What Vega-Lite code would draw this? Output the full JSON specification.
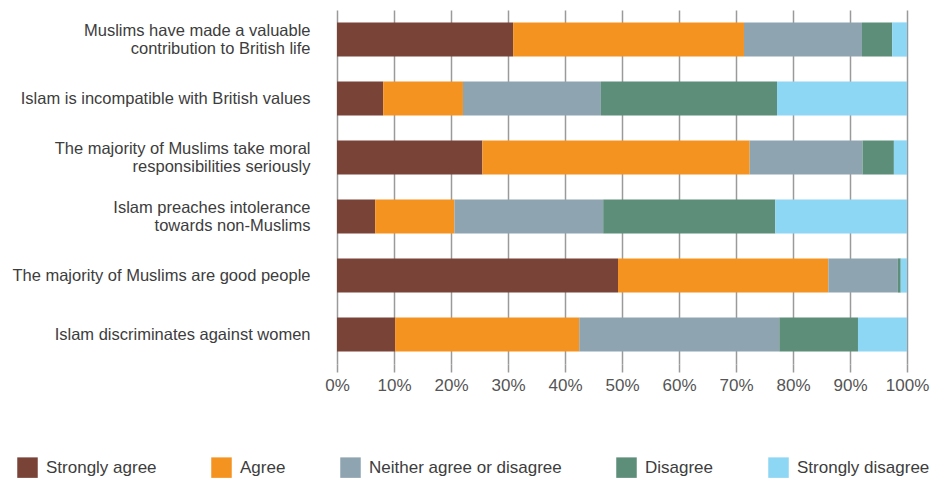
{
  "$schema": "https://vega.github.io/schema/vega-lite/v6.json",
  "width": 570,
  "height": 354,
  "autosize": {"type": "none"},
  "padding": {"left": 337, "top": 10, "right": 33, "bottom": 116},
  "background": "white",
  "config": {
    "font": "Liberation Sans",
    "view": {"stroke": null}
  },
  "data": {
    "values": [
      {"statement": "Muslims have made a valuable|contribution to British life", "response": "Strongly agree", "o": 1, "pct": 30.9},
      {"statement": "Muslims have made a valuable|contribution to British life", "response": "Agree", "o": 2, "pct": 40.5},
      {"statement": "Muslims have made a valuable|contribution to British life", "response": "Neither agree or disagree", "o": 3, "pct": 20.7},
      {"statement": "Muslims have made a valuable|contribution to British life", "response": "Disagree", "o": 4, "pct": 5.3},
      {"statement": "Muslims have made a valuable|contribution to British life", "response": "Strongly disagree", "o": 5, "pct": 2.6},
      {"statement": "Islam is incompatible with British values", "response": "Strongly agree", "o": 1, "pct": 8.1},
      {"statement": "Islam is incompatible with British values", "response": "Agree", "o": 2, "pct": 14.0},
      {"statement": "Islam is incompatible with British values", "response": "Neither agree or disagree", "o": 3, "pct": 24.2},
      {"statement": "Islam is incompatible with British values", "response": "Disagree", "o": 4, "pct": 30.9},
      {"statement": "Islam is incompatible with British values", "response": "Strongly disagree", "o": 5, "pct": 22.8},
      {"statement": "The majority of Muslims take moral|responsibilities seriously", "response": "Strongly agree", "o": 1, "pct": 25.5},
      {"statement": "The majority of Muslims take moral|responsibilities seriously", "response": "Agree", "o": 2, "pct": 46.9},
      {"statement": "The majority of Muslims take moral|responsibilities seriously", "response": "Neither agree or disagree", "o": 3, "pct": 19.8},
      {"statement": "The majority of Muslims take moral|responsibilities seriously", "response": "Disagree", "o": 4, "pct": 5.5},
      {"statement": "The majority of Muslims take moral|responsibilities seriously", "response": "Strongly disagree", "o": 5, "pct": 2.3},
      {"statement": "Islam preaches intolerance|towards non-Muslims", "response": "Strongly agree", "o": 1, "pct": 6.7},
      {"statement": "Islam preaches intolerance|towards non-Muslims", "response": "Agree", "o": 2, "pct": 13.9},
      {"statement": "Islam preaches intolerance|towards non-Muslims", "response": "Neither agree or disagree", "o": 3, "pct": 26.1},
      {"statement": "Islam preaches intolerance|towards non-Muslims", "response": "Disagree", "o": 4, "pct": 30.2},
      {"statement": "Islam preaches intolerance|towards non-Muslims", "response": "Strongly disagree", "o": 5, "pct": 23.1},
      {"statement": "The majority of Muslims are good people", "response": "Strongly agree", "o": 1, "pct": 49.3},
      {"statement": "The majority of Muslims are good people", "response": "Agree", "o": 2, "pct": 36.9},
      {"statement": "The majority of Muslims are good people", "response": "Neither agree or disagree", "o": 3, "pct": 12.2},
      {"statement": "The majority of Muslims are good people", "response": "Disagree", "o": 4, "pct": 0.5},
      {"statement": "The majority of Muslims are good people", "response": "Strongly disagree", "o": 5, "pct": 1.1},
      {"statement": "Islam discriminates against women", "response": "Strongly agree", "o": 1, "pct": 10.2},
      {"statement": "Islam discriminates against women", "response": "Agree", "o": 2, "pct": 32.3},
      {"statement": "Islam discriminates against women", "response": "Neither agree or disagree", "o": 3, "pct": 35.1},
      {"statement": "Islam discriminates against women", "response": "Disagree", "o": 4, "pct": 13.8},
      {"statement": "Islam discriminates against women", "response": "Strongly disagree", "o": 5, "pct": 8.6}
    ]
  },
  "mark": {"type": "bar"},
  "encoding": {
    "y": {
      "field": "statement",
      "type": "nominal",
      "sort": null,
      "scale": {"paddingInner": 0.42, "paddingOuter": 0.21},
      "axis": {
        "title": null,
        "domain": false,
        "ticks": false,
        "labelExpr": "split(datum.label, '|')",
        "labelFontSize": 16.5,
        "labelColor": "#3d3d3d",
        "labelPadding": 27,
        "labelLineHeight": 18.5,
        "labelLimit": 340,
        "labelOffset": {"condition": {"test": "indexof(datum.value, '|') >= 0", "value": -9}, "value": 0}
      }
    },
    "x": {
      "field": "pct",
      "type": "quantitative",
      "stack": "zero",
      "scale": {"domain": [0, 100], "nice": false},
      "axis": {
        "title": null,
        "domain": false,
        "values": [0, 10, 20, 30, 40, 50, 60, 70, 80, 90, 100],
        "labelExpr": "datum.value + '%'",
        "labelFontSize": 17,
        "labelColor": "#555555",
        "labelPadding": 5,
        "labelFlush": false,
        "grid": true,
        "gridColor": "#9a9a9a",
        "gridWidth": 1.5,
        "ticks": true,
        "tickColor": "#9a9a9a",
        "tickWidth": 1.5,
        "tickSize": 8
      }
    },
    "color": {
      "field": "response",
      "type": "nominal",
      "scale": {
        "domain": ["Strongly agree", "Agree", "Neither agree or disagree", "Disagree", "Strongly disagree"],
        "range": ["#7a4338", "#f59321", "#8ea4b1", "#5c8e7a", "#8dd6f4"]
      },
      "legend": {
        "title": null,
        "orient": "none",
        "legendX": -320,
        "legendY": 447,
        "direction": "horizontal",
        "columns": 5,
        "symbolType": "square",
        "symbolSize": 420,
        "symbolStrokeWidth": 0,
        "labelFontSize": 17,
        "labelColor": "#3d3d3d",
        "labelOffset": 8,
        "columnPadding": 54,
        "labelLimit": 300
      }
    },
    "order": {"field": "o", "type": "quantitative"}
  }
}
